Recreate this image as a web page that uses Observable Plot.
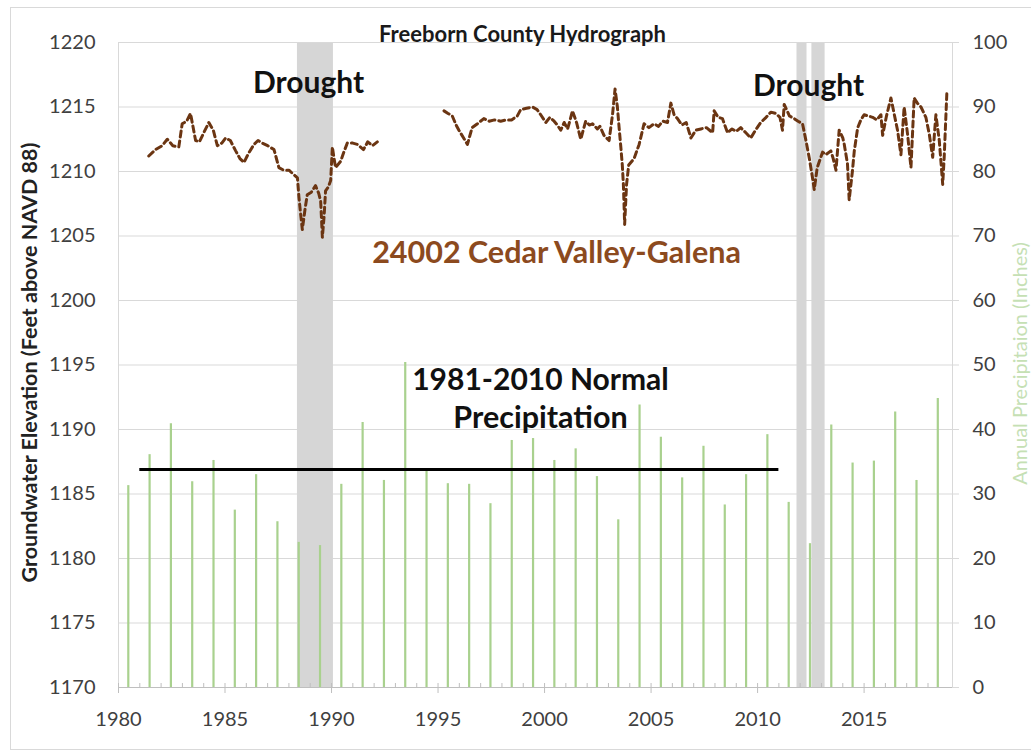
<!DOCTYPE html>
<html><head><meta charset="utf-8">
<script src="https://cdn.jsdelivr.net/npm/d3@7"></script>
<script src="https://cdn.jsdelivr.net/npm/@observablehq/plot@0.6"></script>
<style>
body{margin:0;background:#fff;}
#wrap{position:relative;width:1031px;height:753px;overflow:hidden;}
#border{position:absolute;left:10px;top:7px;width:1030px;height:743px;border:1px solid #d9d9d9;box-sizing:border-box;}
#chart{position:absolute;left:0;top:0;}
</style></head><body>
<div id="wrap"><div id="border"></div><div id="chart"></div></div>
<script>
// ---- data ----
const precipYears = [1980,1981,1982,1983,1984,1985,1986,1987,1988,1989,1990,1991,1992,1993,1994,1995,1996,1997,1998,1999,2000,2001,2002,2003,2004,2005,2006,2007,2008,2009,2010,2011,2012,2013,2014,2015,2016,2017,2018];
const precipInches = [31.3,36.1,40.9,31.9,35.2,27.5,33.0,25.7,22.5,22.0,31.5,41.1,32.1,50.4,33.6,31.6,31.5,28.5,38.3,38.6,35.2,37.0,32.7,26.0,43.8,38.8,32.5,37.4,28.3,33.0,39.2,28.7,22.3,40.7,34.8,35.1,42.7,32.1,44.8];

const gwYear = [1981.42,1981.74,1982.05,1982.29,1982.55,1982.83,1982.99,1983.2,1983.38,1983.62,1983.8,1984.0,1984.24,1984.45,1984.64,1984.85,1985.03,1985.25,1985.5,1985.7,1985.89,1986.1,1986.36,1986.55,1986.75,1987.0,1987.3,1987.53,1987.75,1988.0,1988.2,1988.4,1988.47,1988.55,1988.63,1988.75,1988.86,1989.05,1989.25,1989.4,1989.49,1989.57,1989.65,1989.72,1989.85,1989.96,1990.04,1990.12,1990.19,1990.43,1990.6,1990.74,1991.0,1991.21,1991.5,1991.7,1991.92,1992.15,
1993.7,
1995.28,1995.47,1995.67,1995.85,1995.98,1996.2,1996.38,1996.6,1996.85,1997.15,1997.4,1997.65,1997.94,1998.2,1998.45,1998.72,1998.88,1999.15,1999.43,1999.65,1999.82,2000.06,2000.25,2000.45,2000.6,2000.76,2000.92,2001.08,2001.2,2001.31,2001.5,2001.7,2001.93,2002.1,2002.25,2002.48,2002.6,2002.79,2003.03,2003.19,2003.31,2003.42,2003.5,2003.58,2003.65,2003.7,2003.73,2003.76,2003.85,2003.95,2004.2,2004.44,2004.67,2004.9,2005.14,2005.35,2005.55,2005.77,2005.93,2006.08,2006.24,2006.45,2006.65,2006.87,2007.1,2007.34,2007.6,2007.89,2007.96,2008.15,2008.35,2008.59,2008.8,2009.0,2009.21,2009.45,2009.68,2009.9,2010.15,2010.4,2010.62,2010.85,2011.05,2011.17,2011.25,2011.5,2011.72,2011.9,2012.11,2012.27,2012.42,2012.58,2012.66,2012.8,2013.05,2013.2,2013.44,2013.55,2013.68,2013.83,2014.0,2014.07,2014.22,2014.3,2014.45,2014.54,2014.7,2014.85,2015.0,2015.2,2015.4,2015.6,2015.79,2015.87,2016.05,2016.26,2016.42,2016.57,2016.73,2016.88,2017.04,2017.2,2017.35,2017.5,2017.67,2017.9,2018.06,2018.22,2018.37,2018.53,2018.69,2018.76,2018.89];
const gwElev = [1211.2,1211.7,1212.0,1212.5,1212.0,1211.9,1213.7,1213.9,1214.5,1212.4,1212.3,1213.0,1213.8,1213.2,1212.0,1212.2,1212.6,1212.4,1211.6,1211.0,1210.7,1211.4,1212.1,1212.4,1212.2,1212.0,1211.7,1210.3,1210.1,1210.1,1209.8,1209.5,1208.0,1206.7,1205.5,1207.0,1208.2,1208.4,1208.9,1208.3,1207.7,1204.9,1206.5,1208.5,1208.8,1209.3,1211.9,1211.0,1210.3,1210.8,1211.6,1212.2,1212.2,1212.1,1211.7,1212.3,1212.0,1212.3,
null,
1214.7,1214.5,1214.3,1213.6,1213.2,1212.6,1212.1,1213.4,1213.7,1214.1,1213.9,1214.0,1213.9,1214.0,1214.0,1214.3,1214.8,1214.9,1215.0,1214.8,1214.4,1213.8,1214.2,1213.9,1213.6,1213.2,1213.8,1213.3,1214.0,1214.7,1213.8,1212.5,1213.9,1213.6,1213.7,1213.3,1213.5,1212.8,1212.4,1214.4,1216.4,1215.0,1213.4,1211.9,1210.5,1209.0,1207.5,1205.9,1209.0,1210.5,1211.0,1212.1,1213.7,1213.4,1213.7,1213.5,1213.9,1213.8,1215.3,1214.4,1214.1,1213.6,1213.8,1212.6,1213.2,1213.3,1213.4,1213.0,1214.7,1214.2,1214.1,1213.0,1213.3,1213.1,1213.4,1213.0,1212.6,1213.2,1213.8,1214.2,1214.6,1214.5,1214.2,1213.2,1215.2,1214.3,1214.1,1213.9,1213.7,1212.4,1211.1,1209.5,1208.6,1210.3,1211.5,1211.3,1211.6,1211.0,1210.1,1213.2,1212.6,1212.1,1210.6,1207.8,1210.0,1211.6,1213.4,1214.0,1214.4,1214.3,1214.2,1214.0,1214.4,1212.8,1214.3,1215.7,1214.4,1213.2,1211.3,1215.0,1212.9,1210.3,1215.7,1215.3,1215.0,1214.2,1212.9,1211.1,1214.4,1212.4,1209.0,1211.1,1216.3];

const droughtStart = [1988.40, 2011.85, 2012.55];
const droughtEnd   = [1990.09, 2012.32, 2013.17];

const normalStart = 1981, normalEnd = 2011, normalInches = 33.8;

const elevTicks   = [1170,1175,1180,1185,1190,1195,1200,1205,1210,1215,1220];
const precipTicks = [0,10,20,30,40,50,60,70,80,90,100];
const yearTicks   = [1980,1985,1990,1995,2000,2005,2010,2015];

// ---- derived tables ----
const precip = precipYears.map((y, i) => ({year: y, p: precipInches[i]}));
const gw = gwYear.map((y, i) => ({year: y, elev: gwElev[i]}));
const droughts = droughtStart.map((s, i) => ({start: s, end: droughtEnd[i]}));
// right axis: 100 in of precipitation spans the 50 ft of the left axis
const toElev = p => 1170 + p / 2;
const toPrecip = e => Math.round((e - 1170) * 2);

const FONT = "Lato, 'Open Sans', sans-serif";
const ML = 118, MT = 42;
const note = (txt, cx, cy, opts) => Plot.text([txt], Object.assign({
  frameAnchor: "top-left", textAnchor: "middle", lineAnchor: "middle",
  dx: cx - ML, dy: cy - MT, text: d => d, fontWeight: "bold", fill: "#111"
}, opts));

const chart = Plot.plot({
  width: 1031, height: 753,
  marginLeft: ML, marginRight: 79, marginTop: MT, marginBottom: 66,
  style: {fontFamily: FONT, fontSize: "20px", color: "#404040", background: "transparent"},
  x: {domain: [1980, 2019.15], label: null},
  y: {domain: [1170, 1220], label: null},
  marks: [
    Plot.gridY(elevTicks, {stroke: "#d9d9d9", strokeOpacity: 1}),
    Plot.rect(droughts, {x1: "start", x2: "end", fill: "#d6d6d6"}),
    Plot.ruleX(precip, {x: d => d.year + 0.46, y1: 1170, y2: d => toElev(d.p), stroke: "#a9d18e", strokeWidth: 2.2}),
    Plot.ruleY([normalInches], {y: toElev, x1: normalStart, x2: normalEnd, stroke: "#000", strokeWidth: 3}),
    Plot.line(gw, {x: "year", y: "elev", stroke: "#6b3512", strokeWidth: 3, strokeDasharray: "6,4"}),
    Plot.frame({stroke: "#d9d9d9"}),
    Plot.ruleY([1170], {stroke: "#bfbfbf"}),
    // axes
    Plot.axisY(elevTicks, {anchor: "left", label: null, tickSize: 0, tickPadding: 23, fontSize: 20, fill: "#404040", tickFormat: d3.format("d")}),
    Plot.axisY(precipTicks.map(toElev), {anchor: "right", label: null, tickSize: 6, text: null, stroke: "#d9d9d9"}),
    Plot.axisY(precipTicks.map(toElev), {anchor: "right", label: null, tickSize: 0, tickPadding: 20, fontSize: 20, fill: "#404040", tickFormat: toPrecip}),
    Plot.axisX(precipYears, {anchor: "bottom", label: null, tickSize: -4, text: null, stroke: "#bfbfbf"}),
    Plot.axisX(yearTicks, {anchor: "bottom", label: null, tickSize: 6, text: null, stroke: "#bfbfbf"}),
    Plot.axisX(yearTicks, {anchor: "bottom", label: null, tickSize: 0, tickPadding: 24, fontSize: 20, fill: "#404040", tickFormat: d3.format("d")}),
    // annotations
    note("Freeborn County Hydrograph", 522, 34, {fontSize: 22, fill: "#1a1a1a"}),
    note("Drought", 308, 83, {fontSize: 30}),
    note("Drought", 808, 86, {fontSize: 30}),
    note("24002 Cedar Valley-Galena", 556, 253, {fontSize: 30.5, fill: "#8c4a1e"}),
    note("1981-2010 Normal", 540, 380, {fontSize: 30}),
    note("Precipitation", 540, 418, {fontSize: 30.5}),
    note("Groundwater Elevation (Feet above NAVD 88)", 30, 362, {fontSize: 21.5, rotate: -90, fill: "#222"}),
    note("Annual Precipitaion (Inches)", 1020, 363, {fontSize: 20, rotate: -90, fontWeight: "normal", fill: "#c5e0b4"})
  ]
});
document.getElementById("chart").appendChild(chart);
</script>
</body></html>
